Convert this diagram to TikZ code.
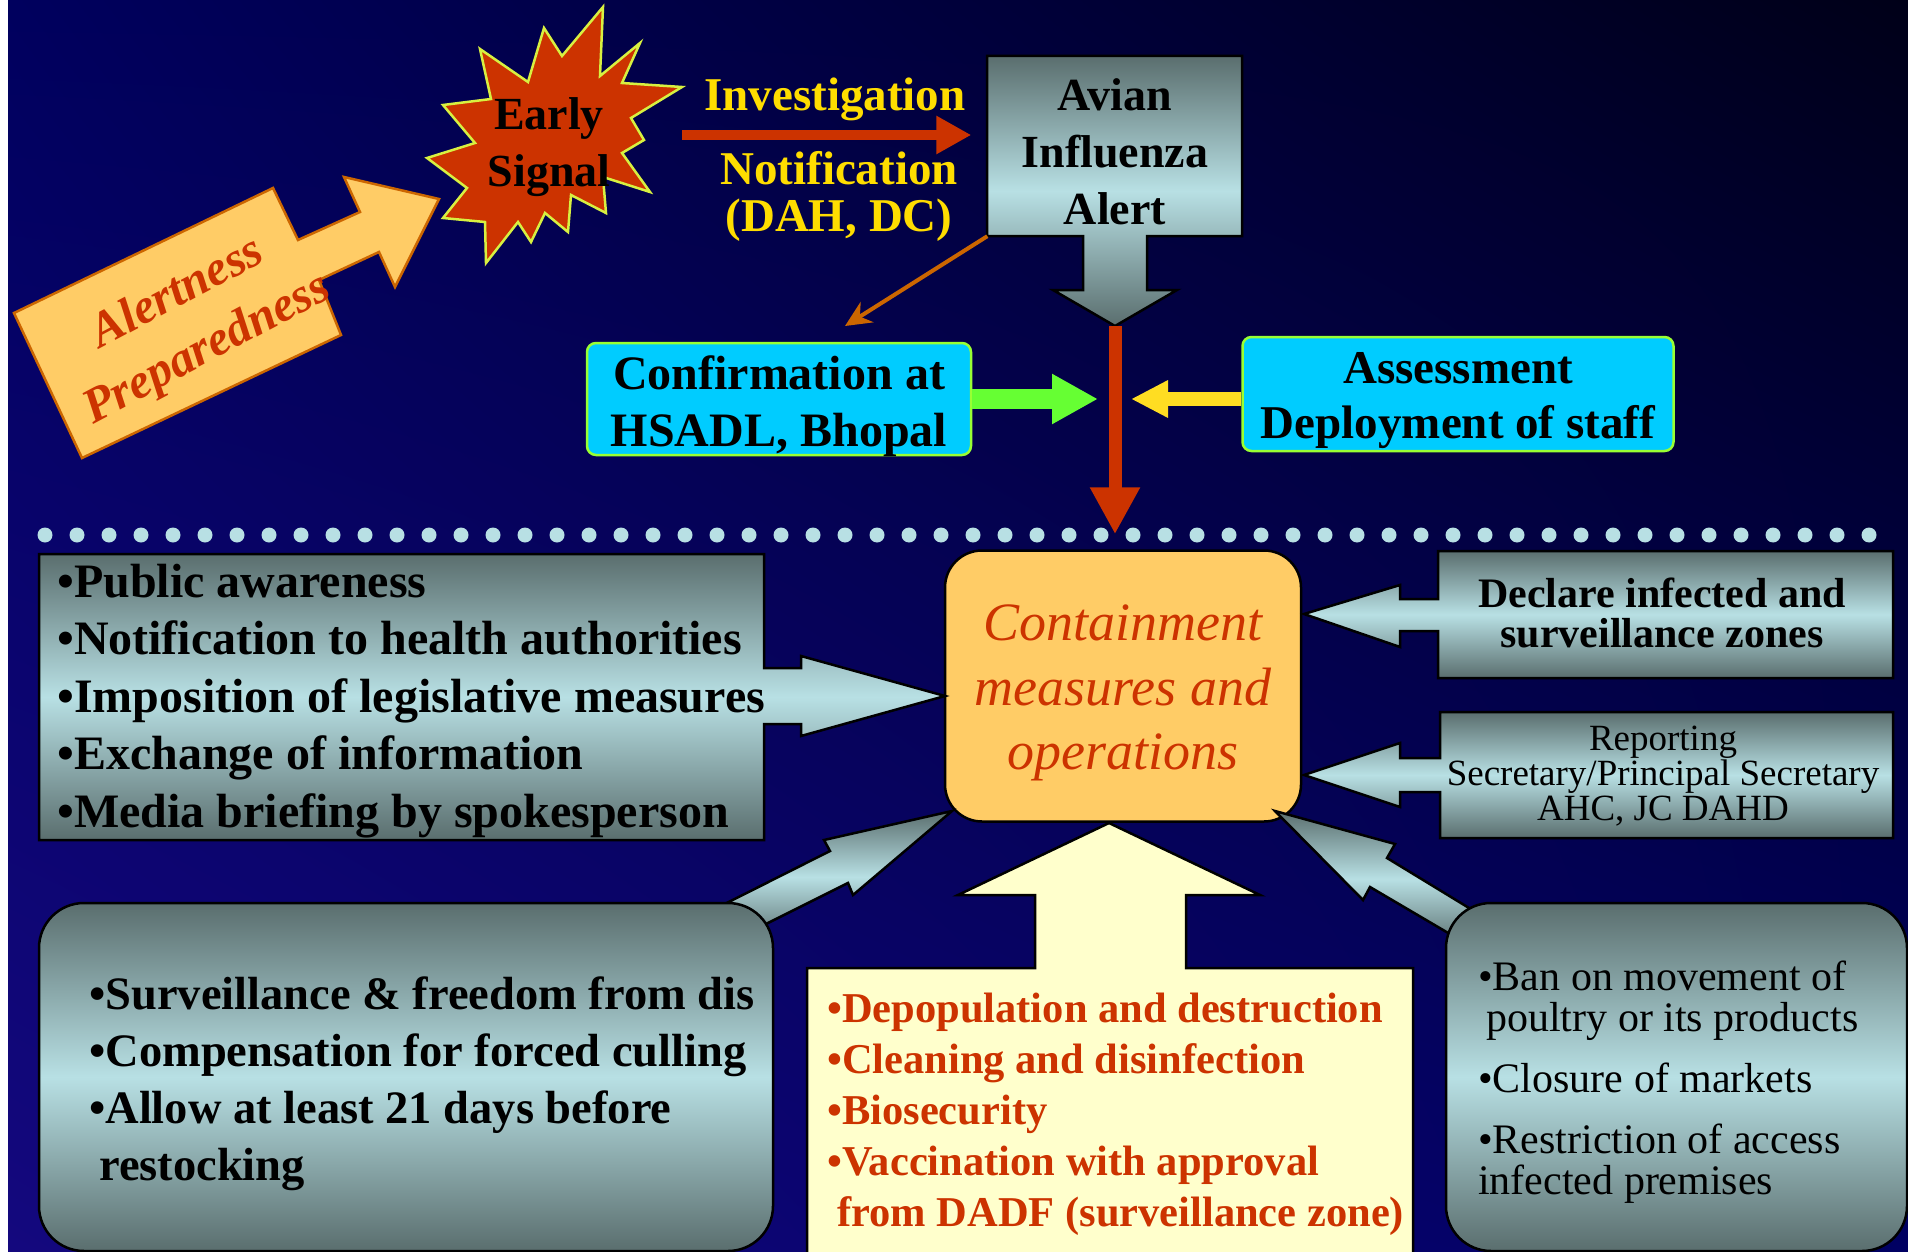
\documentclass[tikz,border=0pt]{standalone}
\usepackage{fontspec}
\setmainfont{Liberation Serif}
\usetikzlibrary{arrows.meta, positioning, shadings}

\definecolor{bgtl}{HTML}{00005E}
\definecolor{bgtr}{HTML}{000018}
\definecolor{bgbl}{HTML}{14087E}
\definecolor{bgbr}{HTML}{000062}
\definecolor{redc}{HTML}{CC3300}
\definecolor{starline}{HTML}{D8F040}
\definecolor{alertfill}{HTML}{FFCC66}
\definecolor{alertline}{HTML}{CC6600}
\definecolor{labelyel}{HTML}{FFDD00}
\definecolor{grayd}{HTML}{5A6E6E}
\definecolor{grayl}{HTML}{B8E0E4}
\definecolor{cyanfill}{HTML}{00CCFF}
\definecolor{cyanline}{HTML}{99FF33}
\definecolor{greenarr}{HTML}{66FF33}
\definecolor{yelarr}{HTML}{FFDD22}
\definecolor{paleyel}{HTML}{FFFFCC}

\newcommand{\fsz}[2]{\fontsize{#1}{#2}\selectfont}

\begin{document}
\begin{tikzpicture}[x=1pt, y=-1pt, line join=miter,
    every node/.style={inner sep=0pt},
    grayshape/.style={draw=black, line width=2.5pt, top color=grayd, bottom color=grayd, middle color=grayl},
    cyanbox/.style={draw=cyanline, line width=2.5pt, fill=cyanfill, rounded corners=9pt, minimum height=112},
    boxtext/.style={align=center, yshift=-7pt, font=\fsz{48}{57}\bfseries},
    boldtext/.style={align=center, font=\fsz{46}{57}\bfseries},
    listtext/.style={align=left, anchor=west}]

	\useasboundingbox (0,0) rectangle (1908,1252);
	\fill[white] (0,0) rectangle (8,1252);
	\shade[upper left=bgtl, upper right=bgtr, lower left=bgbl, lower right=bgbr] (8,0) rectangle (1908,1252);

	\foreach \i in {0,...,57}
		\fill[grayl] (45+32*\i,535) circle[radius=7.5pt];

	% alertness arrow and early signal
	\filldraw[fill=alertfill, draw=alertline, line width=2.5pt]
		(14,313) -- (273,188) -- (298,240) -- (360,212) -- (344,177) -- (439,199)
		-- (395,287) -- (379,252) -- (319,280) -- (341,335) -- (82,458) -- cycle;
	\node[rotate=28, align=center, text=redc, font=\fsz{49}{63}\bfseries\itshape] (alert) at (193,322) {Alertness\\Preparedness};

	\filldraw[fill=redc, draw=starline, line width=2.5pt]
		(603,7) -- (600,76) -- (640,43) -- (622,83) -- (682,87) -- (631,118) -- (644,140)
		-- (622,153) -- (650,192) -- (603,177) -- (606,213) -- (571,195) -- (568,232)
		-- (545,213) -- (531,242) -- (518,222) -- (486,263) -- (485,222) -- (443,218)
		-- (467,188) -- (427,158) -- (475,143) -- (443,105) -- (491,99) -- (480,49)
		-- (528,82) -- (544,28) -- (562,56) -- cycle;
	\node[boldtext] (early) at (549,147) {Early\\Signal};

	% alert box
	\path[grayshape] (987,56) -- (1242,56) -- (1242,236) -- (1147,236) -- (1147,290) -- (1177,290)
		-- (1115,326) -- (1053,290) -- (1083,290) -- (1083,236) -- (987,236) -- cycle;
	\node[boldtext, minimum width=255, minimum height=168] (avian) at (1115,152) {Avian\\Influenza\\Alert};

	\coordinate (sigstart) at (682,135);
	\draw[redc, line width=10pt, -{Triangle[length=35pt,width=36pt]}, shorten >=16pt] (sigstart) -- (sigstart -| avian.west);
	\node[boldtext, text=labelyel, font=\fsz{47}{57}\bfseries] (invlab) at (835,99) {Investigation};
	\node[boldtext, text=labelyel, font=\fsz{47}{47}\bfseries] (notlab) at (839,196) {Notification\\(DAH, DC)};

	\coordinate (confpt) at (845,326);
	\draw[alertline, line width=4pt, -{Stealth[length=26pt,width=24pt]}] (avian.south west) -- (confpt);

	\node[cyanbox, minimum width=384, label={[boxtext]center:Confirmation at\\HSADL, Bhopal}] (confirm) at (779,399) {};
	\node[cyanbox, minimum width=431, minimum height=114, label={[boxtext, font=\fsz{47}{55}\bfseries]center:Assessment\\Deployment of staff}] (assess) at (1458,394) {};

	\node[draw=black, line width=2.5pt, fill=alertfill, rounded corners=37pt, minimum width=356, minimum height=271,
		label={[align=center, text=redc, yshift=-7pt, font=\fsz{54}{64.5}\itshape]center:Containment\\measures and\\operations}] (contain) at (1123,686) {};

	\coordinate (avtip) at (1115,326);
	\draw[redc, line width=13pt, -{Triangle[length=47pt,width=47pt]}, shorten >=15pt] (avtip) -- (avtip |- contain.north);
	\draw[greenarr, line width=20pt, -{Triangle[length=46pt,width=47pt]}, shorten >=17pt] (confirm.east) -- (confirm.east -| avtip);
	\draw[yelarr, line width=14pt, -{Triangle[length=37pt,width=35pt]}, shorten >=16pt] ([yshift=-5pt]assess.west) -- ([yshift=-5pt]assess.west -| avtip);

	% side boxes
	\path[grayshape] (39,554) -- (764,554) -- (764,668) -- (801,668) -- (801,656) -- (945,696) -- (801,736)
		-- (801,724) -- (764,724) -- (764,840) -- (39,840) -- cycle;
	\node[listtext, font=\fsz{48}{57.5}\bfseries] (public) at (57,701) {•Public awareness\\•Notification to health authorities\\•Imposition of legislative measures\\•Exchange of information\\•Media briefing by spokesperson};

	\path[grayshape] (1893,551) -- (1438,551) -- (1438,599) -- (1400,599) -- (1400,585) -- (1304,614) -- (1400,647)
		-- (1400,631) -- (1438,631) -- (1438,678) -- (1893,678) -- cycle;
	\node[align=center, font=\fsz{42}{40}\bfseries] (declare) at (1662,613) {Declare infected and\\surveillance zones};

	\path[grayshape] (1893,712) -- (1440,712) -- (1440,758) -- (1400,758) -- (1400,743) -- (1304,775) -- (1400,807)
		-- (1400,792) -- (1440,792) -- (1440,838) -- (1893,838) -- cycle;
	\node[align=center, font=\fsz{37}{35}] (report) at (1663,776) {Reporting\\Secretary/Principal Secretary\\AHC, JC DAHD};

	% bottom boxes
	\path[grayshape] (687,923) -- (830,851) -- (824,840) -- (952,811) -- (853,895) -- (848,883) -- (728,943) -- cycle;
	\path[grayshape, rounded corners=45pt] (39,903) rectangle (773,1251);
	\node[listtext, font=\fsz{46.5}{57}\bfseries] (survey) at (89,1084) {•Surveillance \& freedom from dis\\•Compensation for forced culling\\•Allow at least 21 days before\\\hspace*{10pt}restocking};

	\path[grayshape] (1492,922) -- (1387,858) -- (1395,844) -- (1275,811) -- (1363,900) -- (1370,887) -- (1472,947) -- cycle;
	\path[grayshape, rounded corners=45pt] (1446,903) rectangle (1907,1251);
	\node[listtext, font=\fsz{42}{41}] (ban) at (1478,1082) {•Ban on movement of\\\hspace*{8pt}poultry or its products\\[20pt]•Closure of markets\\[20pt]•Restriction of access\\infected premises};

	\filldraw[fill=paleyel, draw=black, line width=2.5pt] (807,1262) -- (807,968) -- (1035,968) -- (1035,895) -- (958,895)
		-- (1109,823) -- (1260,895) -- (1186,895) -- (1186,968) -- (1413,968) -- (1413,1262);
	\node[listtext, text=redc, font=\fsz{42.5}{51}\bfseries] (measures) at (827,1114) {•Depopulation and destruction\\•Cleaning and disinfection\\•Biosecurity\\•Vaccination with approval\\\hspace*{10pt}from DADF (surveillance zone)};
\end{tikzpicture}
\end{document}
